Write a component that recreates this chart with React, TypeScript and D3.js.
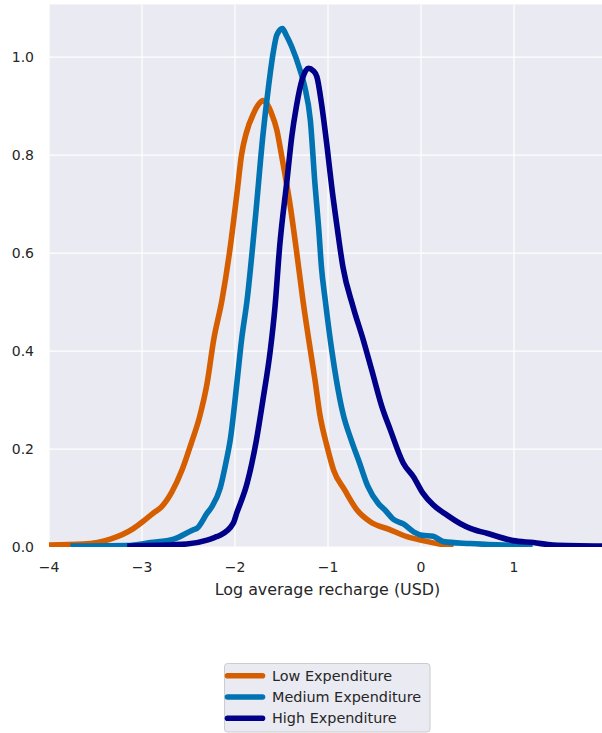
import React from "react";
import * as d3 from "d3";

const lowX = [-4.0, -3.63, -3.34, -3.09, -2.99, -2.88, -2.79, -2.68, -2.57, -2.47, -2.38, -2.30, -2.23, -2.14, -2.06, -1.98, -1.93, -1.88, -1.80, -1.74, -1.70, -1.66, -1.61, -1.55, -1.50, -1.41, -1.34, -1.27, -1.19, -1.14, -1.09, -1.01, -0.94, -0.82, -0.69, -0.55, -0.33, -0.15, 0.02, 0.20, 0.35];
const lowY = [0.004, 0.006, 0.016, 0.038, 0.052, 0.069, 0.082, 0.112, 0.157, 0.212, 0.266, 0.334, 0.422, 0.504, 0.600, 0.720, 0.800, 0.844, 0.885, 0.905, 0.911, 0.905, 0.886, 0.851, 0.800, 0.701, 0.606, 0.504, 0.402, 0.341, 0.273, 0.205, 0.157, 0.116, 0.076, 0.052, 0.035, 0.021, 0.013, 0.006, 0.002];

const medX = [-3.77, -3.16, -2.91, -2.66, -2.45, -2.41, -2.30, -2.25, -2.16, -2.10, -2.05, -1.98, -1.93, -1.87, -1.78, -1.70, -1.64, -1.59, -1.55, -1.49, -1.45, -1.39, -1.30, -1.25, -1.19, -1.14, -1.10, -1.07, -1.03, -0.96, -0.91, -0.84, -0.75, -0.66, -0.57, -0.46, -0.39, -0.30, -0.19, -0.08, 0.01, 0.13, 0.24, 0.53, 0.99, 1.2];
const medY = [0.002, 0.003, 0.009, 0.016, 0.035, 0.038, 0.069, 0.082, 0.12, 0.17, 0.22, 0.334, 0.422, 0.504, 0.674, 0.84, 0.939, 1.008, 1.045, 1.058, 1.045, 1.021, 0.973, 0.939, 0.871, 0.74, 0.65, 0.57, 0.504, 0.402, 0.341, 0.273, 0.218, 0.171, 0.123, 0.089, 0.076, 0.057, 0.047, 0.031, 0.024, 0.022, 0.011, 0.007, 0.003, 0.001];

const highX = [-3.16, -2.52, -2.30, -2.20, -2.16, -2.02, -1.98, -1.87, -1.77, -1.70, -1.62, -1.57, -1.52, -1.44, -1.39, -1.34, -1.28, -1.21, -1.16, -1.12, -1.07, -1.01, -0.96, -0.90, -0.84, -0.73, -0.62, -0.53, -0.42, -0.33, -0.19, -0.08, 0.02, 0.13, 0.28, 0.42, 0.53, 0.71, 0.99, 1.21, 1.42, 1.95];
const highY = [0.002, 0.006, 0.014, 0.021, 0.024, 0.048, 0.07, 0.13, 0.218, 0.30, 0.402, 0.49, 0.613, 0.75, 0.837, 0.899, 0.953, 0.977, 0.972, 0.960, 0.905, 0.817, 0.735, 0.65, 0.572, 0.490, 0.422, 0.361, 0.286, 0.239, 0.171, 0.143, 0.110, 0.086, 0.065, 0.048, 0.038, 0.028, 0.013, 0.009, 0.004, 0.002];

const seriesNames = ["Low Expenditure", "Medium Expenditure", "High Expenditure"];
const seriesColors = ["#d55e00", "#0173b2", "#000088"];
const xTicks = [-4, -3, -2, -1, 0, 1];
const yTicks = [0.0, 0.2, 0.4, 0.6, 0.8, 1.0];
const xLabel = "Log average recharge (USD)";

const W = 602;
const H = 733;
const left = 49;
const right = 602;
const top = 4.5;
const bottom = 547;

export default function App() {
  const x = d3.scaleLinear().domain([-4, 1.946]).range([left, right]);
  const y = d3.scaleLinear().domain([0, (bottom - top) / 490]).range([bottom, top]);
  const series = [
    { xs: lowX, ys: lowY },
    { xs: medX, ys: medY },
    { xs: highX, ys: highY },
  ];
  const line = d3
    .line<[number, number]>()
    .x((d) => x(d[0]))
    .y((d) => y(d[1]))
    .curve(d3.curveMonotoneX);
  const fmtMinus = (v: number) => (v < 0 ? "\u2212" + Math.abs(v) : String(v));
  const font = "DejaVu Sans";
  const textColor = "#262626";
  return (
    <svg width={W} height={H} style={{ position: "absolute", left: 0, top: 0 }} fontFamily={font}>
      <defs>
        <clipPath id="plotclip">
          <rect x={left} y={top} width={right - left} height={bottom - top} />
        </clipPath>
      </defs>
      <rect x={left} y={top} width={right - left} height={bottom - top} fill="#eaeaf2" />
      {xTicks.map((t) => (
        <line key={"gx" + t} x1={x(t)} x2={x(t)} y1={top} y2={bottom} stroke="#ffffff" strokeWidth={1.25} />
      ))}
      {yTicks.map((t) => (
        <line key={"gy" + t} x1={left} x2={right} y1={y(t)} y2={y(t)} stroke="#ffffff" strokeWidth={1.25} />
      ))}
      <g clipPath="url(#plotclip)">
        {series.map((s, i) => (
          <path
            key={i}
            d={line(s.xs.map((v, j) => [v, s.ys[j]] as [number, number])) || ""}
            fill="none"
            stroke={seriesColors[i]}
            strokeWidth={5.6}
            strokeLinejoin="round"
            strokeLinecap="butt"
          />
        ))}
      </g>
      {yTicks.map((t) => (
        <text key={"ty" + t} x={34} y={y(t)} dy="0.36em" textAnchor="end" fontSize={14} fill={textColor}>
          {t.toFixed(1)}
        </text>
      ))}
      {xTicks.map((t) => (
        <text key={"tx" + t} x={x(t)} y={567} dy="0.36em" textAnchor="middle" fontSize={14} fill={textColor}>
          {fmtMinus(t)}
        </text>
      ))}
      <text x={(left + right) / 2 + 2} y={595} textAnchor="middle" fontSize={15.9} fill={textColor}>
        {xLabel}
      </text>
      <g>
        <rect x={224.5} y={663.5} width={205.5} height={68.5} rx={3} fill="#eaeaf2" stroke="#cccccc" strokeWidth={1} />
        {seriesNames.map((n, i) => {
          const cy = 675.7 + i * 21.3;
          return (
            <g key={n}>
              <line x1={227.5} x2={262.5} y1={cy} y2={cy} stroke={seriesColors[i]} strokeWidth={5.6} strokeLinecap="round" />
              <text x={272} y={cy} dy="0.36em" fontSize={14.4} fill={textColor}>
                {n}
              </text>
            </g>
          );
        })}
      </g>
    </svg>
  );
}
